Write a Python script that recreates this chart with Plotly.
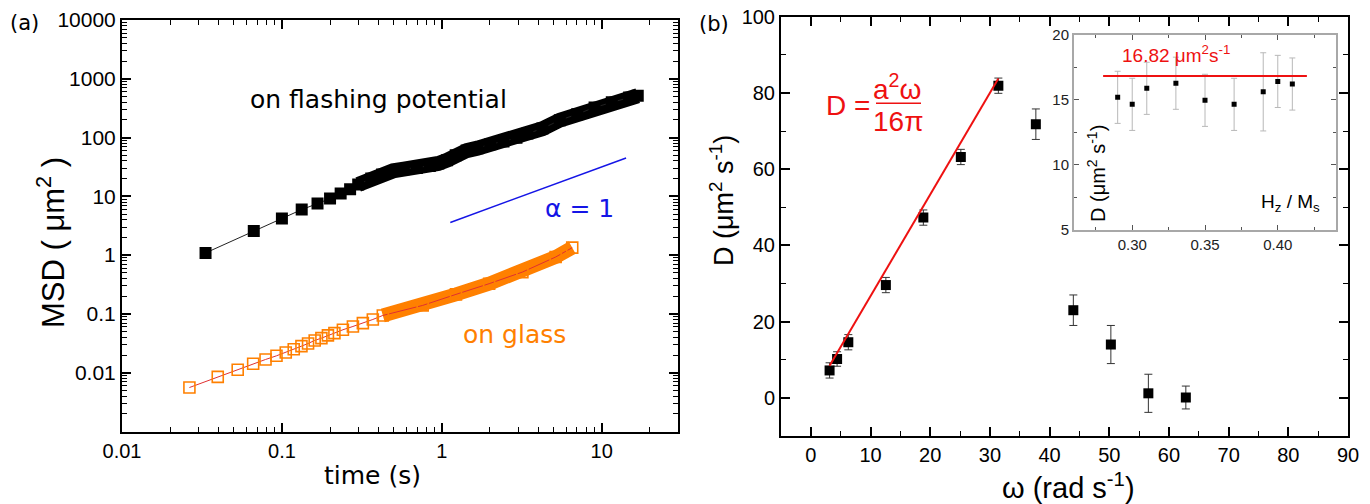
import plotly.graph_objects as go

# ---------------- data: panel (a) ----------------
t_flash = [0.0333, 0.0667, 0.1, 0.133, 0.167, 0.2, 0.233, 0.267, 0.3, 0.362, 0.423,
           0.495, 0.578, 0.698, 0.841, 0.951, 1.079, 1.222, 1.43, 1.67, 2.01, 2.43,
           2.93, 3.43, 4.26, 5.47, 7.03, 9.02, 11.56, 14.84, 16.8]
msd_flash = [1.09, 2.57, 4.19, 5.96, 7.53, 9.17, 11.2, 13.2, 15.9, 20.1, 23.5,
             27.1, 29.0, 30.5, 33.0, 36.2, 41.2, 50.1, 60.0, 66.0, 77.2, 86.0,
             98.9, 117, 142, 198, 250, 326, 400, 480, 515]

t_glass = [0.0264, 0.0397, 0.0529, 0.0661, 0.079, 0.0925, 0.1057, 0.1186, 0.1325,
           0.1457, 0.1603, 0.1766, 0.194, 0.213, 0.2407, 0.278, 0.3208, 0.3704,
           0.4276, 0.759, 1.226, 1.977, 3.19, 5.15, 6.54]
msd_glass = [0.0056, 0.0085, 0.0112, 0.0142, 0.0168, 0.0194, 0.0221, 0.0251, 0.0283,
             0.0314, 0.0354, 0.0387, 0.0431, 0.0471, 0.0538, 0.0612, 0.0697, 0.0805,
             0.0942, 0.1396, 0.215, 0.327, 0.515, 0.929, 1.34]

alpha_t = [1.13, 14.2]
alpha_msd = [3.6, 45.0]

x_ticks_a = [0.01, 0.1, 1, 10]
x_ticklabels_a = ["0.01", "0.1", "1", "10"]
y_ticks_a = [0.01, 0.1, 1, 10, 100, 1000, 10000]
y_ticklabels_a = ["0.01", "0.1", "1", "10", "100", "1000", "10000"]

# ---------------- data: panel (b) ----------------
omega = [3.14, 4.40, 6.28, 12.57, 18.85, 25.13, 31.42, 37.70, 43.98, 50.27, 56.55, 62.83]
D_vals = [7.2, 10.2, 14.6, 29.6, 47.3, 63.2, 81.9, 71.8, 23.0, 14.0, 1.2, 0.1]
D_err = [2.0, 1.9, 2.0, 2.0, 2.0, 2.0, 2.0, 4.0, 4.0, 5.0, 5.0, 3.0]

fit_omega = [3.14, 31.42]
fit_D = [8.4, 83.8]

# ---------------- data: inset ----------------
hz_ms = [0.29, 0.30, 0.31, 0.33, 0.35, 0.37, 0.39, 0.40, 0.41]
D_inset = [15.18, 14.64, 15.87, 16.26, 14.95, 14.64, 15.6, 16.4, 16.2]
D_inset_err = [2.0, 2.0, 2.0, 2.0, 2.0, 2.0, 3.0, 2.0, 2.0]
mean_x = [0.28, 0.42]
mean_D = [16.82, 16.82]

# ---------------- figure ----------------
W, H = 1370, 504
def px(x): return x / W
def py(y): return 1 - y / H

ARIAL = "Liberation Sans, Arial, sans-serif"
DEJA = "DejaVu Sans, sans-serif"
ORANGE = "#ff8000"

fig = go.Figure()

dense_a = 8   # from here on the flashing-potential markers merge into a band
dense_g = 18  # same for the glass markers

# panel (a)
fig.add_trace(go.Scatter(x=t_glass[dense_g:], y=msd_glass[dense_g:], mode="lines",
                         line=dict(color=ORANGE, width=14), xaxis="x", yaxis="y",
                         hoverinfo="skip"))
fig.add_trace(go.Scatter(x=t_glass, y=msd_glass, mode="lines+markers",
                         line=dict(color="#e03030", width=1),
                         marker=dict(symbol="square-open", size=11, color=ORANGE,
                                     line=dict(width=1.6, color=ORANGE)),
                         xaxis="x", yaxis="y"))
fig.add_trace(go.Scatter(x=t_flash[dense_a:], y=msd_flash[dense_a:], mode="lines",
                         line=dict(color="black", width=15), xaxis="x", yaxis="y",
                         hoverinfo="skip"))
fig.add_trace(go.Scatter(x=t_flash, y=msd_flash, mode="lines+markers",
                         line=dict(color="#222", width=1),
                         marker=dict(symbol="square", size=12, color="black"),
                         xaxis="x", yaxis="y"))
fig.add_trace(go.Scatter(x=alpha_t, y=alpha_msd, mode="lines",
                         line=dict(color="#1515e6", width=1.5), xaxis="x", yaxis="y"))

# panel (b)
fig.add_trace(go.Scatter(x=omega, y=D_vals, mode="markers",
                         marker=dict(symbol="square", size=10, color="black"),
                         error_y=dict(type="data", array=D_err, color="#333",
                                      thickness=1, width=4),
                         xaxis="x2", yaxis="y2"))
fig.add_trace(go.Scatter(x=fit_omega, y=fit_D, mode="lines",
                         line=dict(color="#ee1111", width=2), xaxis="x2", yaxis="y2"))

# inset
fig.add_trace(go.Scatter(x=hz_ms, y=D_inset, mode="markers",
                         marker=dict(symbol="square", size=5, color="black"),
                         error_y=dict(type="data", array=D_inset_err, color="#b8b8b8",
                                      thickness=1, width=3),
                         xaxis="x3", yaxis="y3"))
fig.add_trace(go.Scatter(x=mean_x, y=mean_D, mode="lines",
                         line=dict(color="#ee1111", width=2), xaxis="x3", yaxis="y3"))

minor_log = [k * 10 ** e for e in range(-3, 4) for k in range(2, 10)]

common = dict(showgrid=False, zeroline=False, showline=True, linewidth=2,
              linecolor="black", ticks="inside", tickwidth=1.5, ticklen=9,
              tickcolor="black", mirror="ticks", automargin=False)
tf20 = dict(family=ARIAL, size=20, color="black")
tf21 = dict(family=ARIAL, size=21, color="black")
inset_common = dict(showgrid=False, zeroline=False, showline=True, linewidth=2,
                    linecolor="#a8a8a8", ticks="inside", ticklen=5, tickwidth=1,
                    tickcolor="#555", mirror="ticks", automargin=False,
                    tickfont=dict(family=ARIAL, size=15, color="#222"))

fig.update_layout(
    width=W, height=H, margin=dict(l=0, r=0, t=0, b=0, autoexpand=False),
    paper_bgcolor="white", plot_bgcolor="white", showlegend=False,
    xaxis=dict(type="log", domain=[px(122), px(678)], range=[-2, 1.477], anchor="y",
               tickmode="array", tickvals=x_ticks_a, ticktext=x_ticklabels_a,
               minor=dict(tickvals=minor_log, ticks="inside", ticklen=5,
                          tickwidth=1.2, tickcolor="black", showgrid=False),
               tickfont=tf20, **common),
    yaxis=dict(type="log", domain=[py(431.5), py(20)], range=[-3, 4], anchor="x",
               tickmode="array", tickvals=y_ticks_a, ticktext=y_ticklabels_a,
               minor=dict(tickvals=minor_log, ticks="inside", ticklen=5,
                          tickwidth=1.2, tickcolor="black", showgrid=False),
               tickfont=tf21, **common),
    xaxis2=dict(domain=[px(781), px(1348)], range=[-5, 90], anchor="y2",
                tick0=0, dtick=10,
                minor=dict(dtick=5, ticks="inside", ticklen=5, tickwidth=1.2,
                           tickcolor="black", showgrid=False),
                tickfont=tf20, **common),
    yaxis2=dict(domain=[py(436), py(16.7)], range=[-10, 100], anchor="x2",
                tick0=0, dtick=20,
                minor=dict(dtick=10, ticks="inside", ticklen=5, tickwidth=1.2,
                           tickcolor="black", showgrid=False),
                tickfont=tf20, **common),
    xaxis3=dict(domain=[px(1074), px(1336)], range=[0.26, 0.44], anchor="y3",
                tickmode="array", tickvals=[0.30, 0.35, 0.40],
                ticktext=["0.30", "0.35", "0.40"],
                minor=dict(tickvals=[0.275, 0.325, 0.375, 0.425], ticks="inside",
                           ticklen=3, tickwidth=1, tickcolor="#555", showgrid=False),
                **inset_common),
    yaxis3=dict(domain=[py(230), py(34.5)], range=[5, 20], anchor="x3",
                tick0=5, dtick=5,
                minor=dict(dtick=2.5, ticks="inside", ticklen=3, tickwidth=1,
                           tickcolor="#555", showgrid=False),
                **inset_common),
)

def ann(text, x, y, size, family, color="black", angle=0, xanchor="center"):
    return dict(text=text, x=px(x), y=py(y), xref="paper", yref="paper",
                showarrow=False, textangle=angle, xanchor=xanchor, yanchor="middle",
                font=dict(size=size, family=family, color=color))

RED = "#ee1111"
annotations = [
    ann("(a)", 25, 23, 21, DEJA),
    ann("(b)", 714, 24, 21, DEJA),
    ann("MSD ( μm<sup>2</sup> )", 51, 243, 31, ARIAL, angle=-90),
    ann("time (s)", 372, 475, 25, DEJA),
    ann("on flashing potential", 379, 100, 25, DEJA),
    ann("on glass", 514, 334, 25, DEJA, color=ORANGE),
    ann("α = 1", 579, 208, 25, DEJA, color="#1515e6"),
    ann("D (μm<sup>2</sup> s<sup>-1</sup>)", 722, 200, 27, ARIAL, angle=-90),
    ann("ω (rad s<sup>-1</sup>)", 1068, 486, 29, ARIAL),
    ann("D =", 872, 105, 28, ARIAL, color=RED, xanchor="right"),
    ann("a<sup>2</sup>ω", 897, 87, 28, ARIAL, color=RED),
    ann("16π", 898, 121, 28, ARIAL, color=RED),
    ann("16.82 μm<sup>2</sup>s<sup>-1</sup>", 1176, 54, 19, ARIAL, color=RED),
    ann("D (μm<sup>2</sup> s<sup>-1</sup>)", 1096, 174, 20, ARIAL, angle=-90),
    ann("H<sub>z</sub> / M<sub>s</sub>", 1290, 203, 19, ARIAL),
]
fig.update_layout(annotations=annotations)
fig.add_shape(type="line", xref="paper", yref="paper", x0=px(876), x1=px(921),
              y0=py(103.3), y1=py(103.3), line=dict(color=RED, width=1.5))

fig.write_html("out.html", config={"displayModeBar": False},
               post_script="document.body.style.margin='0';"
                           "document.body.style.overflow='hidden';")
